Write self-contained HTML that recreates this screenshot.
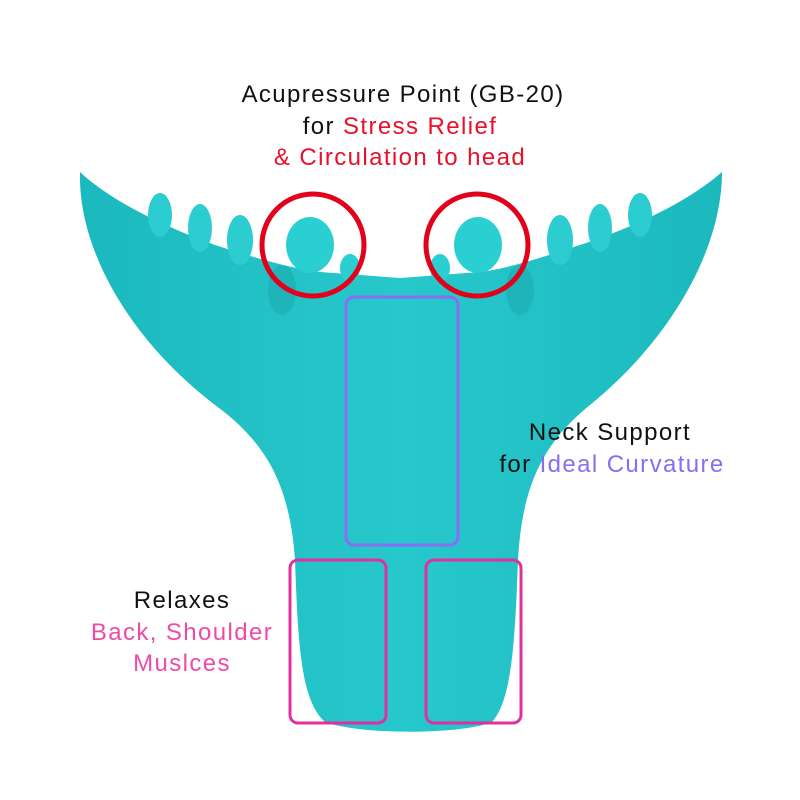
<!DOCTYPE html>
<html><head><meta charset="utf-8"><style>
html,body{margin:0;padding:0;background:#fff}
svg{display:block}
text{font-family:"Liberation Sans",sans-serif;font-size:24px;letter-spacing:1.4px}
</style></head><body>
<svg width="800" height="800" viewBox="0 0 800 800" xmlns="http://www.w3.org/2000/svg">
<defs>
<linearGradient id="g" x1="0" y1="0" x2="1" y2="0">
<stop offset="0" stop-color="#1bb9be"/><stop offset="0.5" stop-color="#27c8cc"/><stop offset="1" stop-color="#1bb9be"/>
</linearGradient>
</defs>
<path d="M80,172 C78,250 130,340 215,405 C270,445 290,490 295,560 C298,640 300,700 325,722 C360,735 460,735 492,722 C512,700 515,640 518,560 C522,490 540,445 590,405 C670,340 722,250 722,172 C690,200 640,225 580,245 C540,258 510,268 480,272 L400,278 L320,272 C290,268 255,258 215,245 C160,225 110,200 80,172 Z" fill="url(#g)"/>
<g fill="#2ccdd1">
<ellipse cx="160" cy="215" rx="12" ry="22"/><ellipse cx="200" cy="228" rx="12" ry="24"/><ellipse cx="240" cy="240" rx="13" ry="25"/>
<ellipse cx="640" cy="215" rx="12" ry="22"/><ellipse cx="600" cy="228" rx="12" ry="24"/><ellipse cx="560" cy="240" rx="13" ry="25"/>
</g>
<g fill="#1fb4b9">
<ellipse cx="282" cy="290" rx="14" ry="25"/><ellipse cx="520" cy="290" rx="14" ry="25"/>
</g>
<g fill="#2acfd2">
<ellipse cx="310" cy="245" rx="24" ry="28"/><ellipse cx="478" cy="245" rx="24" ry="28"/>
<ellipse cx="350" cy="268" rx="10" ry="14"/><ellipse cx="440" cy="268" rx="10" ry="14"/>
</g>
<circle cx="313" cy="245" r="51" fill="none" stroke="#e3001b" stroke-width="5"/>
<circle cx="477" cy="245" r="51" fill="none" stroke="#e3001b" stroke-width="5"/>
<rect x="346" y="297" width="112" height="248" rx="8" fill="none" stroke="#8b6cf2" stroke-width="3"/>
<rect x="290" y="560" width="96" height="163" rx="8" fill="none" stroke="#e0309f" stroke-width="3"/>
<rect x="426" y="560" width="95" height="163" rx="8" fill="none" stroke="#e0309f" stroke-width="3"/>
<text x="403" y="102" text-anchor="middle" fill="#111">Acupressure Point (GB-20)</text>
<text x="400" y="134" text-anchor="middle" fill="#111">for <tspan fill="#e8102a">Stress Relief</tspan></text>
<text x="400" y="165" text-anchor="middle" fill="#e8102a">&amp; Circulation to head</text>
<text x="610" y="440" text-anchor="middle" fill="#111">Neck Support</text>
<text x="612" y="472" text-anchor="middle" fill="#111">for <tspan fill="#8b6cf2">Ideal Curvature</tspan></text>
<text x="182" y="608" text-anchor="middle" fill="#111">Relaxes</text>
<text x="182" y="640" text-anchor="middle" fill="#ee4aa8">Back, Shoulder</text>
<text x="182" y="671" text-anchor="middle" fill="#ee4aa8">Muslces</text>
</svg>
</body></html>
